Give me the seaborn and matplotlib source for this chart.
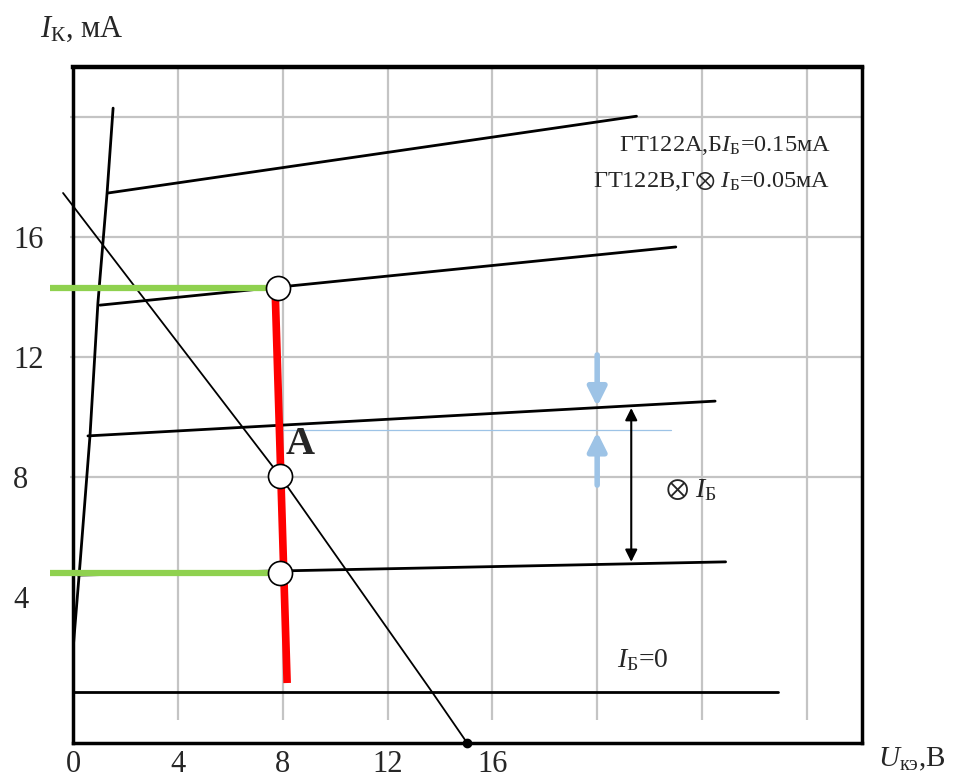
import numpy as np
import pandas as pd
import matplotlib
matplotlib.use("Agg")
import matplotlib.pyplot as plt
import seaborn as sns

# ---------------------------------------------------------------------------
# Data (U_KE in V, I_K in mA)
# ---------------------------------------------------------------------------

# steep (saturation) part, common for all characteristics
steep_u = [0.0, 0.0, 0.27, 0.65, 0.95, 1.30, 1.53]
steep_i = [0.83, 2.23, 5.13, 9.40, 13.80, 17.47, 20.30]

# output characteristics, start and end of each line
char_u = [[0.0, 26.9], [0.19, 24.9], [0.57, 24.5], [1.03, 23.0], [1.34, 21.5]]
char_i = [[0.83, 0.83], [4.73, 5.17], [9.37, 10.53], [13.73, 15.67], [17.47, 20.03]]

# load line
load_u = [-0.38, 7.90, 13.70, 15.04]
load_i = [17.47, 8.03, 0.83, -0.87]

# red working line
red_u = [7.71, 8.17]
red_i = [14.30, 1.13]

# green levels
green_u = [[-0.88, 7.80], [-0.88, 7.90]]
green_i = [[14.30, 14.30], [4.80, 4.80]]

# marked points
pt_u = [7.82, 7.90, 7.90]
pt_i = [14.30, 8.03, 4.80]

# thin blue reference line
blue_u = [7.8, 22.8]
blue_i = [9.57, 9.57]

xticks = [0, 4, 8, 12, 16]
yticks = [4, 8, 12, 16]
grid_u = [4, 8, 12, 16, 20, 24, 28]
grid_i = [8, 12, 16, 20]

XMAX, YMIN, YMAX = 30.1, -0.87, 21.67

# ---------------------------------------------------------------------------
# Plot settings
# ---------------------------------------------------------------------------
sns.set_theme(style="white")
plt.rcParams["font.family"] = ["Liberation Serif", "DejaVu Serif"]
plt.rcParams["mathtext.fontset"] = "custom"
plt.rcParams["mathtext.rm"] = "Liberation Serif"
plt.rcParams["mathtext.it"] = "Liberation Serif:italic"
plt.rcParams["mathtext.bf"] = "Liberation Serif:bold"
plt.rcParams["mathtext.fallback"] = "stix"

fig = plt.figure(figsize=(9.67, 7.84), dpi=100)
ax = fig.add_axes([0.0755, 0.0523, 0.8158, 0.8622])
ax.set_xlim(0, XMAX)
ax.set_ylim(YMIN, YMAX)

# grid
ax.vlines(grid_u, -0.1, YMAX, color="#c4c4c4", lw=1.6, zorder=0)
ax.hlines(grid_i, -0.1, XMAX, color="#c4c4c4", lw=1.6, zorder=0, clip_on=False)

# characteristics
sns.lineplot(x=steep_u, y=steep_i, color="black", lw=2.0, sort=False,
             estimator=None, ax=ax)
for cu, ci in zip(char_u, char_i):
    sns.lineplot(x=cu, y=ci, color="black", lw=2.0, sort=False,
                 estimator=None, ax=ax)

# load line
df_load = pd.DataFrame({"u": load_u, "i": load_i})
sns.lineplot(data=df_load, x="u", y="i", color="black", lw=1.3, sort=False,
             estimator=None, ax=ax)
for l in ax.lines[-1:]:
    l.set_clip_on(False)
ax.plot(load_u[-1], load_i[-1], marker="o", ms=6, color="black", clip_on=False)

# thin blue line
ax.plot(blue_u, blue_i, color="#9DC3E6", lw=0.9, zorder=3)

# green levels
for gu, gi in zip(green_u, green_i):
    ax.plot(gu, gi, color="#8FD14F", lw=4.5, clip_on=False, zorder=4,
            solid_capstyle="butt")

# red line
ax.plot(red_u, red_i, color="#FF0000", lw=5.5, zorder=4, solid_capstyle="butt")

# points
sns.scatterplot(x=pt_u, y=pt_i, s=300, color="white", edgecolor="black",
                linewidth=1.2, zorder=6, ax=ax)

# arrows
blue = "#9DC3E6"
ax.annotate("", xy=(20, 10.35), xytext=(20, 12.07),
            arrowprops=dict(arrowstyle="-|>", color=blue, lw=4, mutation_scale=28,
                            shrinkA=0, shrinkB=0))
ax.annotate("", xy=(20, 9.5), xytext=(20, 7.73),
            arrowprops=dict(arrowstyle="-|>", color=blue, lw=4, mutation_scale=28,
                            shrinkA=0, shrinkB=0))
ax.annotate("", xy=(21.3, 10.3), xytext=(21.3, 5.17),
            arrowprops=dict(arrowstyle="<|-|>", color="black", lw=1.5,
                            mutation_scale=18, shrinkA=0, shrinkB=0))

# texts
ax.text(8.1, 9.1, "A", fontsize=29, fontweight="bold", ha="left", va="center",
        zorder=7)
ax.text(28.9, 19.07, "ГТ122А,Б$I_{\\mathrm{Б}}$=0.15мА", fontsize=17.5,
        ha="right", va="center")
ax.text(28.9, 17.85, "ГТ122В,Г$\\otimes$ $I_{\\mathrm{Б}}$=0.05мА",
        fontsize=17.5, ha="right", va="center")
ax.text(22.6, 7.57, "$\\otimes$ $I_{\\mathrm{Б}}$", fontsize=20, ha="left",
        va="center")
ax.text(20.75, 1.9, "$I_{\\mathrm{Б}}$=0", fontsize=20, ha="left", va="center")

fig.text(0.041, 0.962, "$I_{\\mathrm{К}}$, мА", fontsize=22, ha="left",
         va="center")
fig.text(0.908, 0.031, "$U_{\\mathrm{кэ}}$,В", fontsize=21, ha="left",
         va="center")

# ticks and frame
ax.set_xticks(xticks)
ax.set_yticks(yticks)
ax.set_xticklabels([str(t) for t in xticks], fontsize=22)
ax.set_yticklabels([str(t) for t in yticks], fontsize=22)
ax.tick_params(axis="x", length=0, pad=5)
ax.tick_params(axis="y", length=0, pad=43)
plt.setp(ax.get_yticklabels(), ha="left")
ax.set_xlabel("")
ax.set_ylabel("")
for s in ax.spines.values():
    s.set_color("black")
    s.set_linewidth(2.5)
ax.spines["top"].set_linewidth(3.2)

fig.savefig("out.png", dpi=100)
